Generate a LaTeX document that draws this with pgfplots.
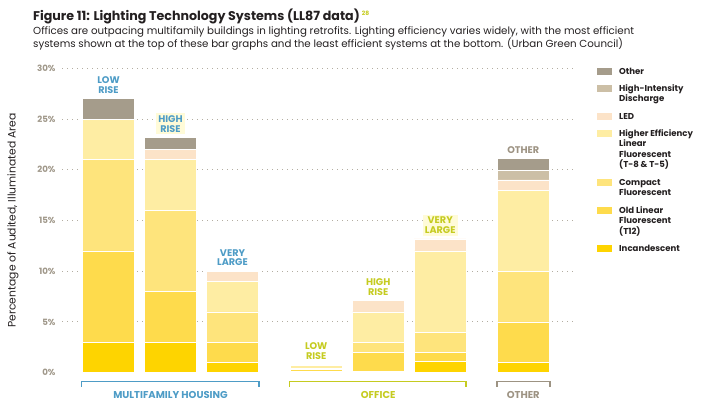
\documentclass[border=0pt]{standalone}
\usepackage{pgfplots}
\pgfplotsset{compat=1.18}
\usepackage{fontspec}
\setmainfont{Poppins}
\definecolor{cInc}{HTML}{FED400}
\definecolor{cOld}{HTML}{FEDB4C}
\definecolor{cCfl}{HTML}{FEE47C}
\definecolor{cHe}{HTML}{FEEDA3}
\definecolor{cLed}{HTML}{FCE3C8}
\definecolor{cHid}{HTML}{CCBFA6}
\definecolor{cOth}{HTML}{A59C8B}
\definecolor{cBlue}{HTML}{4E9CC6}
\definecolor{cGreen}{HTML}{C5CB20}
\definecolor{cGray}{HTML}{9D9383}
\definecolor{cTick}{HTML}{A0988A}
\definecolor{cHl}{HTML}{FFFBD8}
\definecolor{cText}{HTML}{231F20}
\begin{document}
\begin{tikzpicture}
\path[use as bounding box] (0,0) rectangle (705bp,-417bp);
% title
\node[anchor=base west, inner sep=0, text=cText, font=\fontsize{12.7}{15}\selectfont\bfseries] at (33bp,-20bp) {Figure 11: Lighting Technology Systems (LL87 data)\,\raisebox{0.7ex}{\textcolor{cGreen}{\fontsize{6}{7}\selectfont 28}}};
\node[anchor=base west, inner sep=0, text=cText, font=\fontsize{10.3}{12}\selectfont] at (33bp,-34bp) {Offices are outpacing multifamily buildings in lighting retrofits. Lighting efficiency varies widely, with the most efficient};
\node[anchor=base west, inner sep=0, text=cText, font=\fontsize{10.3}{12}\selectfont] at (33bp,-47.5bp) {systems shown at the top of these bar graphs and the least efficient systems at the bottom. (Urban Green Council)};
\begin{axis}[
  at={(62bp,-372.7bp)}, anchor=south west,
  scale only axis, width=513bp, height=304.4bp,
  xmin=-0.75, xmax=7.524, ymin=0, ymax=30,
  clip=false,
  axis line style={draw=none},
  major tick length=0pt,
  xtick=\empty,
  ytick={5,10,...,30},
  yticklabels={5\%,10\%,15\%,20\%,25\%,30\%},
  extra y ticks={0}, extra y tick labels={0\%},
  extra tick style={grid=none},
  ymajorgrids,
  major grid style={draw=cTick!80, line width=1bp, dash pattern=on 1bp off 4bp},
  yticklabel style={font=\fontsize{8.7}{10}\selectfont\bfseries, text=cTick, xshift=-3bp},
  ylabel={Percentage of Audited, Illuminated Area},
  ylabel style={at={(axis description cs:-0.0955,0.5)}, anchor=center, font=\fontsize{10.8}{12}\selectfont, text=cText},
  ybar stacked, bar width=52bp,
  every axis plot/.append style={draw=white, line width=0.5bp},
]
% order: LR, HR, VL (multifamily), LR, HR, VL (office), Other
\addplot[fill=cInc] coordinates {(0,3) (1,3) (2,1) (3.35,0.15) (4.35,0.15) (5.35,1.1) (6.69,1)};
\addplot[fill=cOld] coordinates {(0,9) (1,5) (2,2) (3.35,0.2) (4.35,1.85) (5.35,0.9) (6.69,4)};
\addplot[fill=cCfl] coordinates {(0,9) (1,8) (2,3) (3.35,0.1) (4.35,1) (5.35,2) (6.69,5)};
\addplot[fill=cHe] coordinates {(0,4) (1,5) (2,3) (3.35,0.25) (4.35,3) (5.35,8) (6.69,8)};
\addplot[fill=cLed] coordinates {(0,0) (1,1) (2,1) (3.35,0) (4.35,1.1) (5.35,1.2) (6.69,1)};
\addplot[fill=cHid] coordinates {(0,0) (1,0) (2,0) (3.35,0) (4.35,0) (5.35,0) (6.69,1)};
\addplot[fill=cOth] coordinates {(0,2) (1,1.2) (2,0) (3.35,0.1) (4.35,0) (5.35,0) (6.69,1.1)};
% category labels
\tikzset{cat/.style={anchor=south, align=center, inner sep=2bp, yshift=3bp, font=\fontsize{9.7}{9.8}\selectfont\bfseries}}
\node[cat, text=cBlue] at (axis cs:0,27) {LOW\\RISE};
\node[cat, text=cBlue, fill=cHl] at (axis cs:1,23.2) {HIGH\\RISE};
\node[cat, text=cBlue] at (axis cs:2,10) {VERY\\LARGE};
\node[cat, text=cGreen] at (axis cs:3.35,0.8) {LOW\\RISE};
\node[cat, text=cGreen] at (axis cs:4.35,7.1) {HIGH\\RISE};
\node[cat, text=cGreen, fill=cHl] at (axis cs:5.35,13.2) {VERY\\LARGE};
\node[cat, text=cGray] at (axis cs:6.69,21.1) {OTHER};
% group brackets
\tikzset{grp/.style={font=\fontsize{10}{11}\selectfont\bfseries, anchor=center, inner sep=0}}
\draw[cBlue, line width=1.3bp] ([yshift=-14bp]axis cs:-0.432,0) -- ([yshift=-9bp]axis cs:-0.432,0) -- ([yshift=-9bp]axis cs:2.427,0) -- ([yshift=-14bp]axis cs:2.427,0);
\node[grp, text=cBlue] at ([yshift=-21.8bp]axis cs:1,0) {MULTIFAMILY HOUSING};
\draw[cGreen, line width=1.3bp] ([yshift=-14bp]axis cs:2.916,0) -- ([yshift=-9bp]axis cs:2.916,0) -- ([yshift=-9bp]axis cs:5.766,0) -- ([yshift=-14bp]axis cs:5.766,0);
\node[grp, text=cGreen] at ([yshift=-21.8bp]axis cs:4.35,0) {OFFICE};
\draw[cGray, line width=1.3bp] ([yshift=-14bp]axis cs:6.266,0) -- ([yshift=-9bp]axis cs:6.266,0) -- ([yshift=-9bp]axis cs:7.121,0) -- ([yshift=-14bp]axis cs:7.121,0);
\node[grp, text=cGray] at ([yshift=-21.8bp]axis cs:6.69,0) {OTHER};
\end{axis}
% legend
\tikzset{lg/.style={anchor=base west, inner sep=0, text=cText, font=\fontsize{8.6}{10}\selectfont\bfseries}}
\fill[cOth] (597bp,-67.5bp) rectangle (612bp,-74.5bp);
\node[lg] at (619bp,-74bp) {Other};
\fill[cHid] (597bp,-84.5bp) rectangle (612bp,-91.5bp);
\node[lg] at (619bp,-91bp) {High-Intensity};
\node[lg] at (619bp,-101.3bp) {Discharge};
\fill[cLed] (597bp,-112.5bp) rectangle (612bp,-119.5bp);
\node[lg] at (619bp,-119bp) {LED};
\fill[cHe] (597bp,-129.5bp) rectangle (612bp,-136.5bp);
\node[lg] at (619bp,-136.3bp) {Higher Efficiency};
\node[lg] at (619bp,-146.8bp) {Linear};
\node[lg] at (619bp,-157.3bp) {Fluorescent};
\node[lg] at (619bp,-167.8bp) {(T-8 \& T-5)};
\fill[cCfl] (597bp,-178.5bp) rectangle (612bp,-185.5bp);
\node[lg] at (619bp,-185.3bp) {Compact};
\node[lg] at (619bp,-195.7bp) {Fluorescent};
\fill[cOld] (597bp,-206.5bp) rectangle (612bp,-213.5bp);
\node[lg] at (619bp,-213bp) {Old Linear};
\node[lg] at (619bp,-223.6bp) {Fluorescent};
\node[lg] at (619bp,-234bp) {(T12)};
\fill[cInc] (597bp,-244.5bp) rectangle (612bp,-251.5bp);
\node[lg] at (619bp,-251.3bp) {Incandescent};
\end{tikzpicture}
\end{document}
